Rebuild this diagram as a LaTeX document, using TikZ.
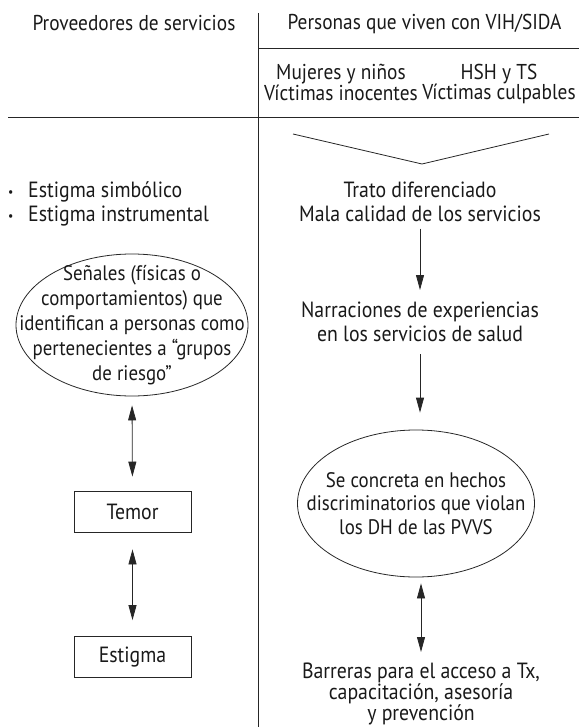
\documentclass[tikz,border=0pt]{standalone}
\usepackage{fontspec}
\setmainfont{PT Sans}[FakeStretch=0.9]
\usepackage{tikz}
\usetikzlibrary{arrows.meta}
\usetikzlibrary{positioning,shapes.geometric}
\newcommand{\ListDot}{\makebox[20pt][l]{\raisebox{1.5pt}{\fontsize{13}{13}\selectfont\textbullet}}}

\begin{document}
\begin{tikzpicture}[
x=1pt,y=-1pt,
MyTexts/.style={inner sep=0pt,align=center,text=black!90},
MyHeads/.style={MyTexts,font=\fontsize{21.5}{22}\selectfont},
MyGroups/.style={MyTexts,font=\fontsize{21.5}{20}\selectfont},
MyEllipses/.style={ellipse,draw=black!85,line width=0.8pt,inner sep=-40pt,align=center,text=black!90},
MyBoxes/.style={rectangle,draw=black!85,line width=0.8pt,minimum width=117pt,minimum height=41pt,inner sep=0pt,text=black!90},
Rules/.style={draw=black!85,line width=0.8pt},
MyArrow/.style={->,>={Triangle[length=15pt,width=8pt]},draw=black!85,line width=0.8pt},
MyDouble/.style={<->,>={Triangle[length=15pt,width=8pt]},draw=black!85,line width=0.8pt},
every node/.style={font=\fontsize{22}{24}\selectfont}
]
\useasboundingbox (0,0) rectangle (579,727);

% separators
\coordinate (TopMid) at (258,13);
\coordinate (BotMid) at (258,727);
\coordinate (RowA) at (258,48);
\coordinate (RowAEnd) at (579,48);
\coordinate (RowB) at (8,117.5);
\coordinate (RowBEnd) at (579,117.5);
\coordinate (VLeft) at (293,134);
\coordinate (VTip) at (422,164);
\coordinate (VRight) at (549,134);

\draw[Rules] (TopMid) -- (BotMid);
\draw[Rules] (RowA) -- (RowAEnd);
\draw[Rules] (RowB) -- (RowBEnd);
\draw[Rules] (VLeft) -- (VTip) -- (VRight);

% headers
\node[MyHeads,anchor=base] (prov) at (134,30.5) {Proveedores de servicios};
\node[MyHeads,anchor=base] (pvvs) at (424.5,30) {Personas que viven con VIH/SIDA};
\node[MyGroups,anchor=north] (inocentes) at (341,63.5) {Mujeres y niños\\Víctimas inocentes};
\node[MyGroups,anchor=north] (culpables) at (499,63.5) {HSH y TS\\Víctimas culpables};

% left column
\node[MyTexts,anchor=north west,align=left] (tipos) at (8,181.5) {\ListDot Estigma simbólico\\\ListDot Estigma instrumental};
\node[MyEllipses,minimum width=232pt,minimum height=142pt,font=\fontsize{21}{25}\selectfont] (senales) at (132,325) {Señales (físicas o\\comportamientos) que\\identifican a personas como\\pertenecientes a “grupos\\de riesgo”};
\node[MyBoxes] (temor) at (132.5,511.5) {Temor};
\node[MyBoxes] (estigma) at (132.5,657) {Estigma};

% right column
\node[MyTexts,anchor=north] (trato) at (420,181.5) {Trato diferenciado\\Mala calidad de los servicios};
\node[MyTexts,anchor=north] (narraciones) at (420,302) {Narraciones de experiencias\\en los servicios de salud};
\node[MyEllipses,minimum width=237pt,minimum height=147pt,font=\fontsize{21}{23.5}\selectfont] (hechos) at (416,503.5) {Se concreta en hechos\\discriminatorios que violan\\los DH de las PVVS};
\node[MyTexts,anchor=north,font=\fontsize{22}{21}\selectfont] (barreras) at (421,663) {Barreras para el acceso a Tx,\\capacitación, asesoría\\y prevención};

% arrows
\draw[MyDouble,shorten <=9pt,shorten >=14pt] (senales.south) -- (temor.north);
\draw[MyDouble,shorten <=17pt,shorten >=16pt] (temor.south) -- (estigma.north);
\draw[MyArrow,shorten <=7pt,shorten >=12pt] (trato.south) -- (narraciones.north);
\draw[MyArrow,shorten <=12pt,shorten >=17pt] (narraciones.south) -- (narraciones.south |- hechos.north);
\draw[MyDouble,shorten <=6pt,shorten >=11pt] (hechos.south -| barreras.north) -- (barreras.north);

\end{tikzpicture}
\end{document}
